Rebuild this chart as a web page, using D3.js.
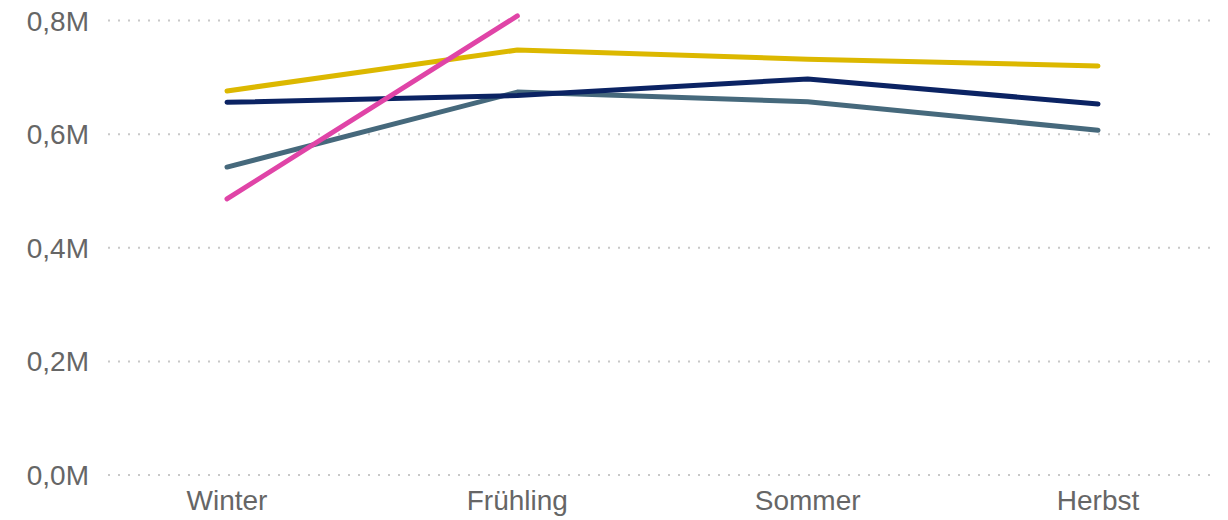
<!DOCTYPE html>
<html>
    <head>
        <meta charset="utf-8">
        <script src="https://d3js.org/d3.v7.min.js"></script>
        <style>
            body { margin: 0; background: #fff; }
            text { font-family: "Liberation Sans", Arial, sans-serif; fill: #666; }
        </style>
    </head>
    <body>
        <svg width="1228" height="520" id="chart"></svg>
        <script>
            // seasons along the x axis
            const seasons=["Winter", "Frühling", "Sommer", "Herbst"];
            const yTicks=[0, 0.2, 0.4, 0.6, 0.8];

            // values in millions
            const seriesA=[0.542, 0.674, 0.657, 0.607];   // teal grey
            const seriesB=[0.656, 0.668, 0.697, 0.653];   // navy
            const seriesC=[0.676, 0.748, 0.732, 0.720];   // yellow
            const seriesD=[0.486, 0.808];                 // pink, only two seasons

            const series=[
                {name:"A", values:seriesA, color:"#46697c"},
                {name:"B", values:seriesB, color:"#0b2363"},
                {name:"C", values:seriesC, color:"#dcb800"},
                {name:"D", values:seriesD, color:"#e044a7"}
            ];

            let svg=d3.select("#chart");

            let xScale=d3.scalePoint().domain(seasons).range([227, 1098]);
            let yScale=d3.scaleLinear().domain([0, 0.8]).range([475, 20.5]);

            let grid=svg.append("g").attr("id", "grid");
            grid.selectAll("line").data(yTicks)
                .join("line")
                .attr("x1", 108)
                .attr("x2", 1212)
                .attr("y1", d=>yScale(d))
                .attr("y2", d=>yScale(d))
                .attr("stroke", "#c8c8c8")
                .attr("stroke-width", 2)
                .attr("stroke-dasharray", "2,8");

            let fmt=d=>d.toFixed(1).replace(".", ",")+"M";

            svg.append("g").selectAll("text").data(yTicks)
                .join("text")
                .attr("x", 89)
                .attr("y", d=>yScale(d))
                .attr("dy", "0.36em")
                .attr("text-anchor", "end")
                .attr("font-size", 28)
                .text(fmt);

            svg.append("g").selectAll("text").data(seasons)
                .join("text")
                .attr("x", d=>xScale(d))
                .attr("y", 510)
                .attr("text-anchor", "middle")
                .attr("font-size", 28)
                .text(d=>d);

            let line=d3.line()
                .x((d,i)=>xScale(seasons[i]))
                .y(d=>yScale(d));

            svg.append("g").selectAll("path").data(series)
                .join("path")
                .attr("d", d=>line(d.values))
                .attr("fill", "none")
                .attr("stroke", d=>d.color)
                .attr("stroke-width", 5)
                .attr("stroke-linecap", "round")
                .attr("stroke-linejoin", "round");
        </script>
    </body>
</html>
